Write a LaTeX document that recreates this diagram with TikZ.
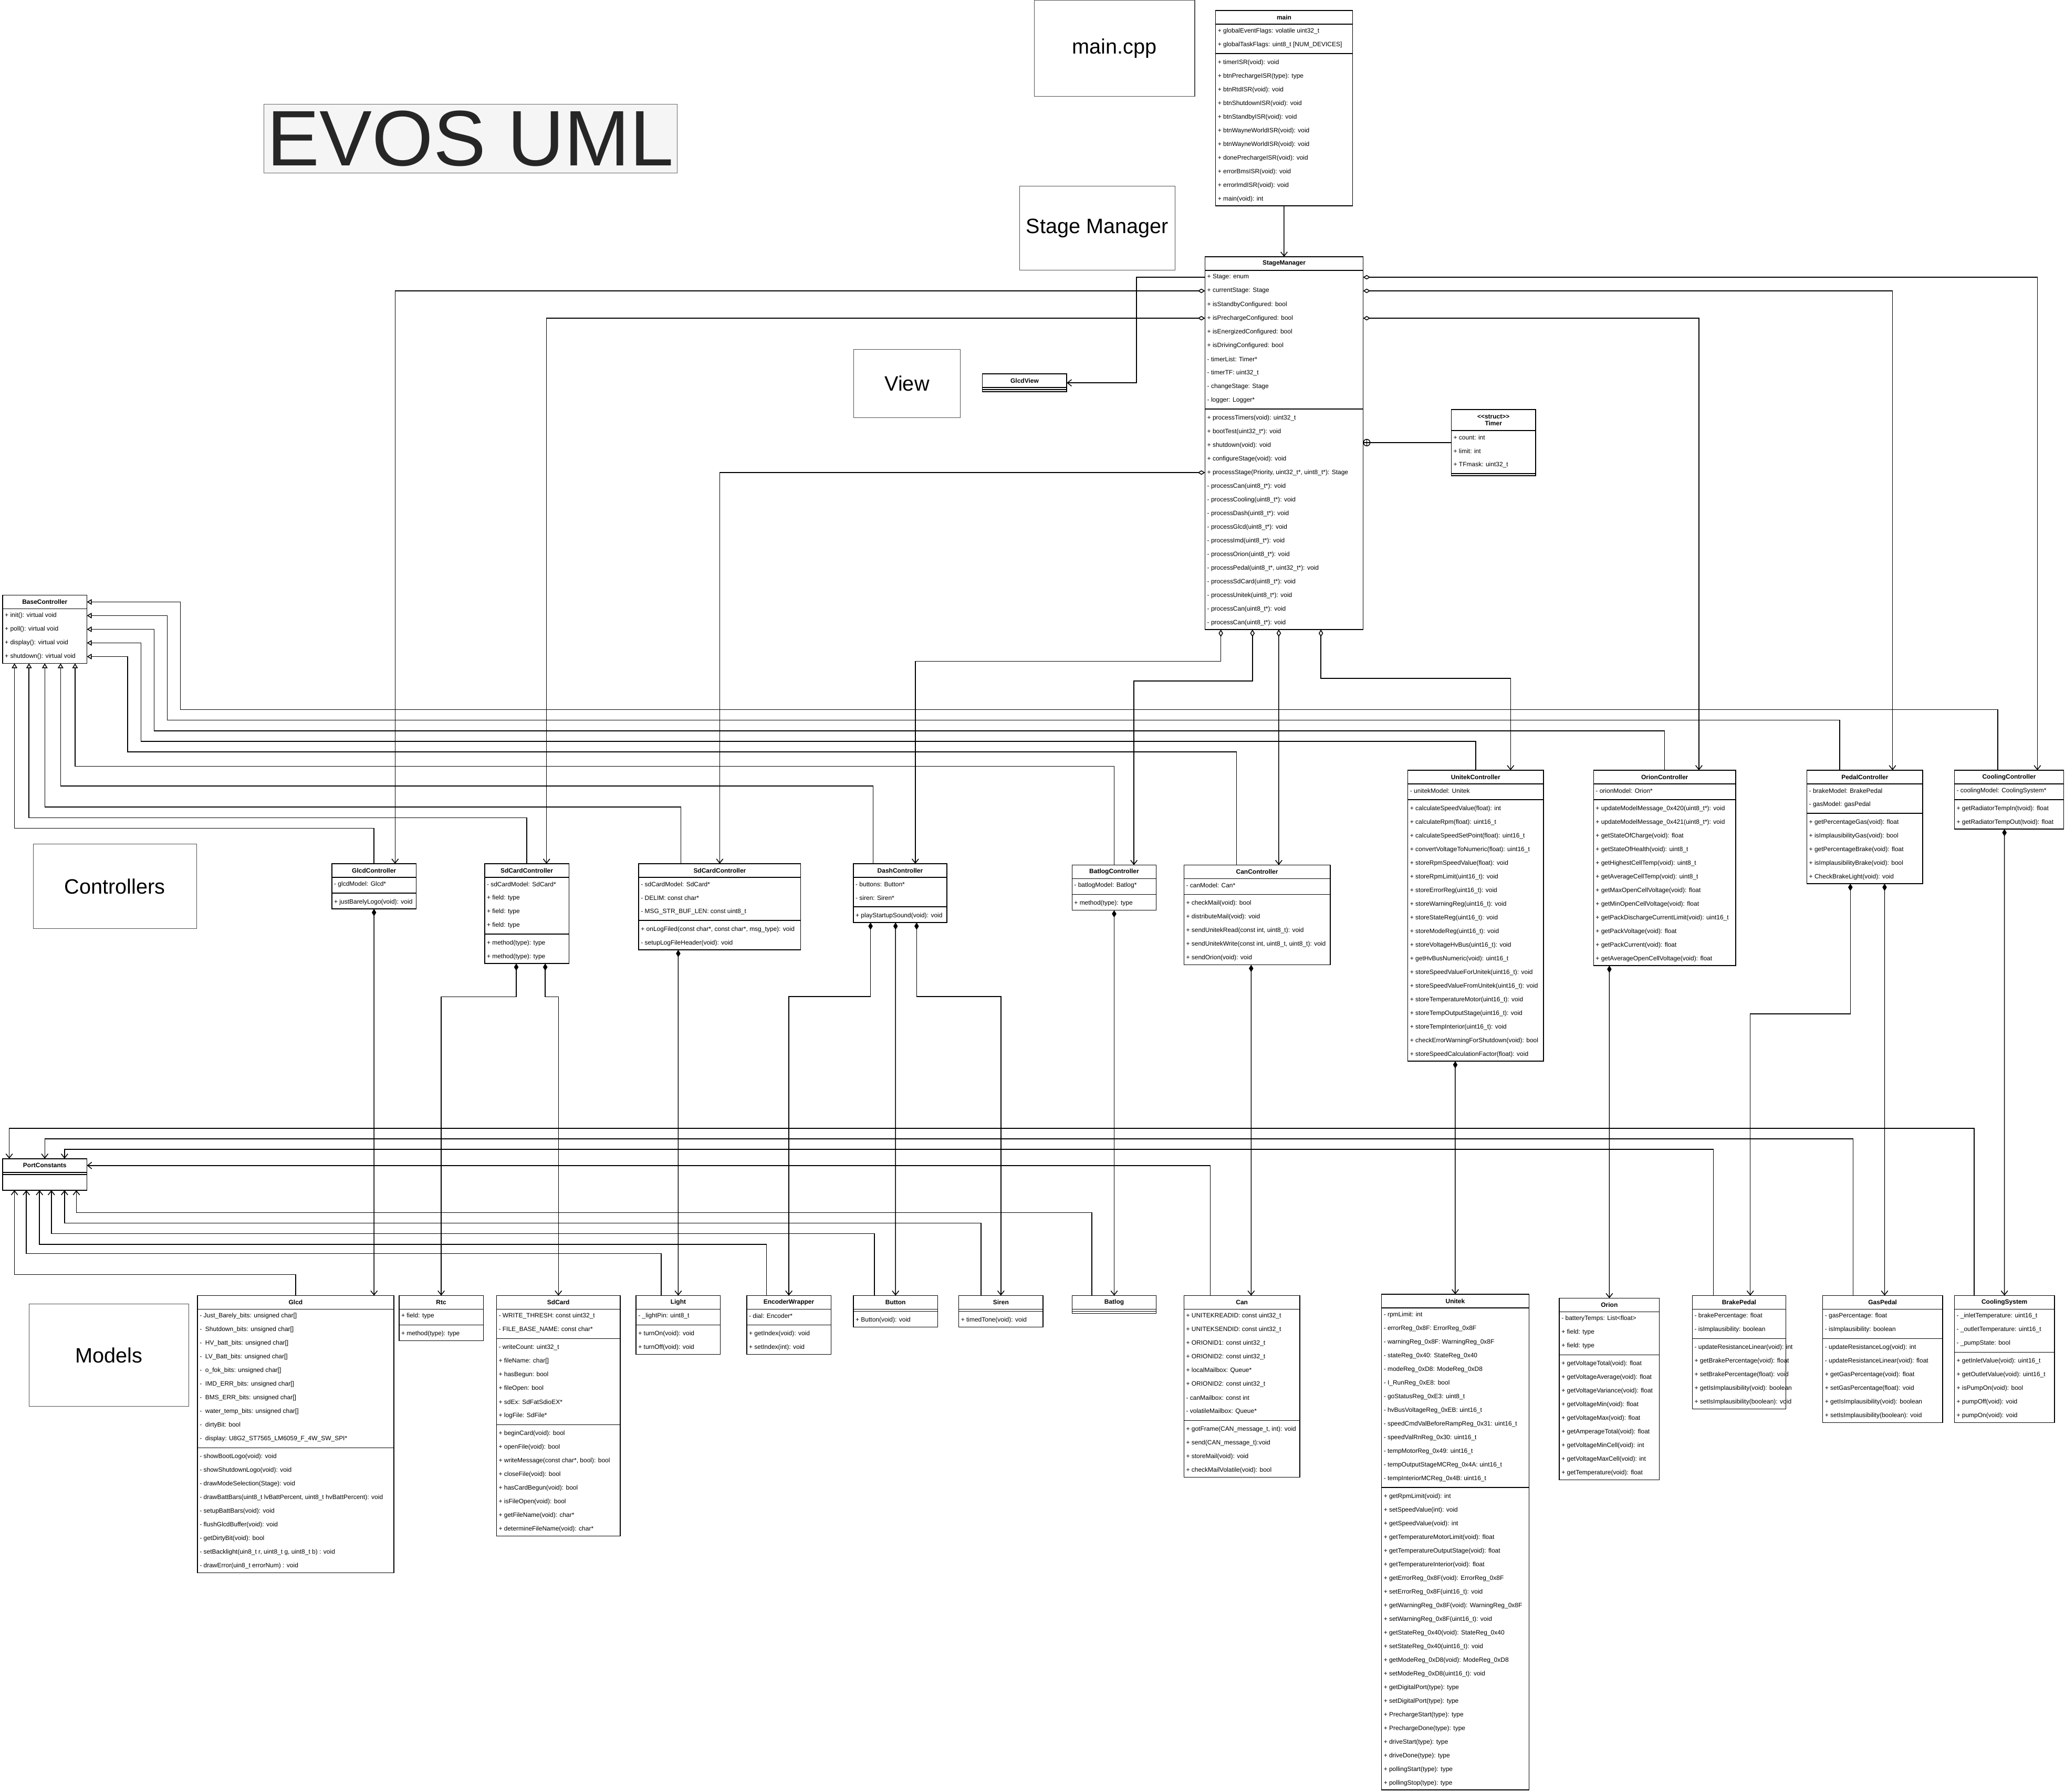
\documentclass[tikz,border=0pt]{standalone}
\usepackage{fontspec}
\setmainfont{Liberation Sans}
\usetikzlibrary{arrows.meta,calc}
\definecolor{evosfill}{HTML}{F5F5F5}
\definecolor{evosline}{HTML}{666666}
\newcommand{\memberfont}{\fontsize{13.6}{16}\selectfont}
\newcommand{\titlefont}{\fontsize{13.6}{15}\selectfont\bfseries}
\newcommand{\labelfont}{\fontsize{45}{50}\selectfont}
\newcommand{\rowh}{10.37}
\newcommand{\divh}{3.19}
\newcounter{rowno}
\edef\divmark{\detokenize{|}}
\tikzset{
  clsBox/.style={draw, line width=1.7pt, inner sep=0pt, outer sep=0pt},
  clsTitle/.style={clsBox, font=\titlefont, align=center},
  memberText/.style={inner sep=0pt, anchor=west, font=\memberfont},
  divLine/.style={line width=1.7pt},
  labelBox/.style={draw=black!70, line width=1.2pt, inner sep=0pt, anchor=north west, font=\labelfont},
  depLine/.style={line width=1.7pt, -{Straight Barb[length=3.2mm,width=5mm]}},
  aggLine/.style={line width=1.7pt, {Diamond[open,length=5.5mm,width=3.4mm]}-{Straight Barb[length=3.2mm,width=5mm]}},
  compLine/.style={line width=1.7pt, {Diamond[length=5.5mm,width=3.4mm]}-{Straight Barb[length=3.2mm,width=5mm]}},
  inhLine/.style={line width=1.7pt, -{Triangle[open,length=3.6mm,width=4.2mm]}},
  plusMark/.style={circle, draw, line width=1.7pt, minimum size=5mm, inner sep=0pt, anchor=west}
}
% class box: [header height]{name}{x}{y}{width}{title}{rows, | = divider}
\newcommand{\umlclass}[7][10.37]{%
  \setcounter{rowno}{0}%
  \node[clsTitle, minimum width=#5 mm, minimum height=#1 mm, anchor=north west] (#2-t) at (#3,#4) {#6};%
  \pgfmathsetmacro\clsy{#4+#1}\xdef\cury{\clsy}%
  \foreach \itm in {#7}{%
    \edef\curitm{\detokenize\expandafter{\itm}}%
    \ifx\curitm\divmark
      \draw[divLine] (#3,\cury+\divh/2) -- ++(#5,0);%
      \pgfmathsetmacro\clsy{\cury+\divh}\xdef\cury{\clsy}%
    \else
      \stepcounter{rowno}\edef\rn{\arabic{rowno}}%
      \node[memberText] (#2-\rn) at (#3+1.6,\cury+\rowh/2) {\itm};%
      \pgfmathsetmacro\clsy{\cury+\rowh}\xdef\cury{\clsy}%
    \fi
  }%
  \pgfmathsetmacro\clsh{\cury-#4}%
  \node[clsBox, minimum width=#5 mm, minimum height=\clsh mm, anchor=north west] (#2) at (#3,#4) {};%
}
\begin{document}
\begin{tikzpicture}[x=1mm, y=-1mm]
  \useasboundingbox (0,0) rectangle (1568,1361);

  % section labels
  \node[labelBox, fill=evosfill, draw=evosline, text=black!85, font=\fontsize{170}{170}\selectfont, minimum width=314mm, minimum height=52mm] (evos) at (200,79) {EVOS UML};
  \node[labelBox, minimum width=122mm, minimum height=73mm] (lblmain) at (785,0) {main.cpp};
  \node[labelBox, minimum width=118mm, minimum height=64mm] (lblstage) at (774,141) {Stage Manager};
  \node[labelBox, minimum width=81mm, minimum height=52mm] (lblview) at (648,265) {View};
  \node[labelBox, minimum width=124mm, minimum height=64mm] (lblctrl) at (25,641) {Controllers};
  \node[labelBox, minimum width=121mm, minimum height=78mm] (lblmodels) at (22,990) {Models};

  % main and stage manager
  \umlclass{main}{923}{8}{104}{main}{+ globalEventFlags: volatile uint32\_t, + globalTaskFlags: uint8\_t [NUM\_DEVICES], |, + timerISR(void): void, + btnPrechargeISR(type): type, + btnRtdISR(void): void, + btnShutdownISR(void): void, + btnStandbyISR(void): void, + btnWayneWorldISR(void): void, + btnWayneWorldISR(void): void, + donePrechargeISR(void): void, + errorBmsISR(void): void, + errorImdISR(void): void, + main(void): int}
  \umlclass{sm}{915}{195}{120}{StageManager}{+ Stage: enum, + currentStage: Stage, + isStandbyConfigured: bool, + isPrechargeConfigured: bool, + isEnergizedConfigured: bool, + isDrivingConfigured: bool, - timerList: Timer*, - timerTF: uint32\_t, - changeStage: Stage, - logger: Logger*, |, + processTimers(void): uint32\_t, + bootTest(uint32\_t*): void, + shutdown(void): void, + configureStage(void): void, {+ processStage(Priority, uint32\_t*, uint8\_t*): Stage}, - processCan(uint8\_t*): void, - processCooling(uint8\_t*): void, - processDash(uint8\_t*): void, - processGlcd(uint8\_t*): void, - processImd(uint8\_t*): void, - processOrion(uint8\_t*): void, {- processPedal(uint8\_t*, uint32\_t*): void}, - processSdCard(uint8\_t*): void, - processUnitek(uint8\_t*): void, - processCan(uint8\_t*): void, - processCan(uint8\_t*): void}
  \umlclass[16]{timer}{1102}{311}{64}{<{}<struct>{}>\\Timer}{+ count: int, + limit: int, + TFmask: uint32\_t, |}
  \umlclass{gview}{746}{284}{64}{GlcdView}{|}

  % controllers
  \umlclass{base}{2}{452}{64}{BaseController}{+ init(): virtual void, + poll(): virtual void, + display(): virtual void, + shutdown(): virtual void}
  \umlclass{glcdc}{252}{656}{64}{GlcdController}{- glcdModel: Glcd*, |, + justBarelyLogo(void): void}
  \umlclass{sdc1}{368}{656}{64}{SdCardController}{- sdCardModel: SdCard*, + field: type, + field: type, + field: type, |, + method(type): type, + method(type): type}
  \umlclass{sdc2}{485}{656}{123}{SdCardController}{- sdCardModel: SdCard*, - DELIM: const char*, - MSG\_STR\_BUF\_LEN: const uint8\_t, |, {+ onLogFiled(const char*, const char*, msg\_type): void}, - setupLogFileHeader(void): void}
  \umlclass{dashc}{648}{656}{71}{DashController}{- buttons: Button*, - siren: Siren*, |, + playStartupSound(void): void}
  \umlclass{batc}{814}{657}{64}{BatlogController}{- batlogModel: Batlog*, |, + method(type): type}
  \umlclass{canc}{899}{657}{111}{CanController}{- canModel: Can*, |, + checkMail(void): bool, + distributeMail(void): void, {+ sendUnitekRead(const int, uint8\_t): void}, {+ sendUnitekWrite(const int, uint8\_t, uint8\_t): void}, + sendOrion(void): void}
  \umlclass{unic}{1069}{585}{103}{UnitekController}{- unitekModel: Unitek, |, + calculateSpeedValue(float): int, + calculateRpm(float): uint16\_t, + calculateSpeedSetPoint(float): uint16\_t, + convertVoltageToNumeric(float): uint16\_t, + storeRpmSpeedValue(float): void, + storeRpmLimit(uint16\_t): void, + storeErrorReg(uint16\_t): void, + storeWarningReg(uint16\_t): void, + storeStateReg(uint16\_t): void, + storeModeReg(uint16\_t): void, + storeVoltageHvBus(uint16\_t): void, + getHvBusNumeric(void): uint16\_t, + storeSpeedValueForUnitek(uint16\_t): void, + storeSpeedValueFromUnitek(uint16\_t): void, + storeTemperatureMotor(uint16\_t): void, + storeTempOutputStage(uint16\_t): void, + storeTempInterior(uint16\_t): void, + checkErrorWarningForShutdown(void): bool, + storeSpeedCalculationFactor(float): void}
  \umlclass{orc}{1210}{585}{108}{OrionController}{- orionModel: Orion*, |, + updateModelMessage\_0x420(uint8\_t*): void, + updateModelMessage\_0x421(uint8\_t*): void, + getStateOfCharge(void): float, + getStateOfHealth(void): uint8\_t, + getHighestCellTemp(void): uint8\_t, + getAverageCellTemp(void): uint8\_t, + getMaxOpenCellVoltage(void): float, + getMinOpenCellVoltage(void): float, + getPackDischargeCurrentLimit(void): uint16\_t, + getPackVoltage(void): float, + getPackCurrent(void): float, + getAverageOpenCellVoltage(void): float}
  \umlclass{pedc}{1372}{585}{88}{PedalController}{- brakeModel: BrakePedal, - gasModel: gasPedal, |, + getPercentageGas(void): float, + isImplausibilityGas(void): bool, + getPercentageBrake(void): float, + isImplausibilityBrake(void): bool, + CheckBrakeLight(void): void}
  \umlclass{coolc}{1484}{585}{83}{CoolingController}{- coolingModel: CoolingSystem*, |, + getRadiatorTempIn(tvoid): float, + getRadiatorTempOut(tvoid): float}

  % models
  \umlclass{pc}{2}{880}{64}{PortConstants}{|, {}}
  \umlclass{glcd}{150}{984}{149}{Glcd}{- Just\_Barely\_bits: unsigned char[], -\ \ Shutdown\_bits: unsigned char[], -\ \ HV\_batt\_bits: unsigned char[], -\ \ LV\_Batt\_bits: unsigned char[], -\ \ o\_fok\_bits: unsigned char[], -\ \ IMD\_ERR\_bits: unsigned char[], -\ \ BMS\_ERR\_bits: unsigned char[], -\ \ water\_temp\_bits: unsigned char[], -\ \ dirtyBit: bool, -\ \ display: U8G2\_ST7565\_LM6059\_F\_4W\_SW\_SPI*, |, - showBootLogo(void): void, - showShutdownLogo(void): void, - drawModeSelection(Stage): void, {- drawBattBars(uint8\_t lvBattPercent, uint8\_t hvBattPercent): void}, - setupBattBars(void): void, - flushGlcdBuffer(void): void, - getDirtyBit(void): bool, {- setBacklight(uin8\_t r, uint8\_t g, uint8\_t b) : void}, - drawError(uin8\_t errorNum) : void}
  \umlclass{rtc}{303}{984}{64}{Rtc}{+ field: type, |, + method(type): type}
  \umlclass{sdcard}{377}{984}{94}{SdCard}{- WRITE\_THRESH: const uint32\_t, - FILE\_BASE\_NAME: const char*, |, - writeCount: uint32\_t, + fileName: char[], + hasBegun: bool, + fileOpen: bool, + sdEx: SdFatSdioEX*, + logFile: SdFile*, |, + beginCard(void): bool, + openFile(void): bool, {+ writeMessage(const char*, bool): bool}, + closeFile(void): bool, + hasCardBegun(void): bool, + isFileOpen(void): bool, + getFileName(void): char*, + determineFileName(void): char*}
  \umlclass{light}{483}{984}{64}{Light}{- \_lightPin: uint8\_t, |, + turnOn(void): void, + turnOff(void): void}
  \umlclass{encw}{567}{984}{64}{EncoderWrapper}{- dial: Encoder*, |, + getIndex(void): void, + setIndex(int): void}
  \umlclass{button}{648}{984}{64}{Button}{|, + Button(void): void}
  \umlclass{siren}{728}{984}{64}{Siren}{|, + timedTone(void): void}
  \umlclass{batlog}{814}{984}{64}{Batlog}{|}
  \umlclass{can}{899}{984}{88}{Can}{+ UNITEKREADID: const uint32\_t, + UNITEKSENDID: const uint32\_t, + ORIONID1: const uint32\_t, + ORIONID2: const uint32\_t, + localMailbox: Queue*, + ORIONID2: const uint32\_t, - canMailbox: const int, - volatileMailbox: Queue*, |, {+ gotFrame(CAN\_message\_t, int): void}, + send(CAN\_message\_t):void, + storeMail(void): void, + checkMailVolatile(void): bool}
  \umlclass{unitek}{1049}{983}{112}{Unitek}{- rpmLimit: int, - errorReg\_0x8F: ErrorReg\_0x8F, - warningReg\_0x8F: WarningReg\_0x8F, - stateReg\_0x40: StateReg\_0x40, - modeReg\_0xD8: ModeReg\_0xD8, - I\_RunReg\_0xE8: bool, - goStatusReg\_0xE3: uint8\_t, - hvBusVoltageReg\_0xEB: uint16\_t, - speedCmdValBeforeRampReg\_0x31: uint16\_t, - speedValRnReg\_0x30: uint16\_t, - tempMotorReg\_0x49: uint16\_t, - tempOutputStageMCReg\_0x4A: uint16\_t, - tempInteriorMCReg\_0x4B: uint16\_t, |, + getRpmLimit(void): int, + setSpeedValue(int): void, + getSpeedValue(void): int, + getTemperatureMotorLimit(void): float, + getTemperatureOutputStage(void): float, + getTemperatureInterior(void): float, + getErrorReg\_0x8F(void): ErrorReg\_0x8F, + setErrorReg\_0x8F(uint16\_t): void, + getWarningReg\_0x8F(void): WarningReg\_0x8F, + setWarningReg\_0x8F(uint16\_t): void, + getStateReg\_0x40(void): StateReg\_0x40, + setStateReg\_0x40(uint16\_t): void, + getModeReg\_0xD8(void): ModeReg\_0xD8, + setModeReg\_0xD8(uint16\_t): void, + getDigitalPort(type): type, + setDigitalPort(type): type, + PrechargeStart(type): type, + PrechargeDone(type): type, + driveStart(type): type, + driveDone(type): type, + pollingStart(type): type, + pollingStop(type): type}
  \umlclass{orion}{1184}{986}{76}{Orion}{- batteryTemps: List<float>, + field: type, + field: type, |, + getVoltageTotal(void): float, + getVoltageAverage(void): float, + getVoltageVariance(void): float, + getVoltageMin(void): float, + getVoltageMax(void): float, + getAmperageTotal(void): float, + getVoltageMinCell(void): int, + getVoltageMaxCell(void): int, + getTemperature(void): float}
  \umlclass{brake}{1285}{984}{71}{BrakePedal}{- brakePercentage: float, - isImplausibility: boolean, |, - updateResistanceLinear(void): int, + getBrakePercentage(void): float, + setBrakePercentage(float): void, + getIsImplausibility(void): boolean, + setIsImplausibility(boolean): void}
  \umlclass{gas}{1384}{984}{91}{GasPedal}{- gasPercentage: float, - isImplausibility: boolean, |, - updateResistanceLog(void): int, - updateResistanceLinear(void): float, + getGasPercentage(void): float, + setGasPercentage(float): void, + getIsImplausibility(void): boolean, + setIsImplausibility(boolean): void}
  \umlclass{cools}{1484}{984}{76}{CoolingSystem}{- \_inletTemperature: uint16\_t, - \_outletTemperature: uint16\_t, - \_pumpState: bool, |, + getInletValue(void): uint16\_t, + getOutletValue(void): uint16\_t, + isPumpOn(void): bool, + pumpOff(void): void, + pumpOn(void): void}

  % stage manager links
  \draw[depLine] (main.south) -- (sm.north);
  \draw[depLine] (sm-1 -| sm.west) -- ++(-52,0) |- (gview.east);
  \node[plusMark] (smplus) at (sm.east |- timer.west) {};
  \draw[line width=1.7pt] (smplus.north) -- (smplus.south) (smplus.west) -- (smplus.east);
  \draw[line width=1.7pt] (smplus) -- (timer.west);
  \draw[aggLine] (sm-2 -| sm.west) -| ([xshift=16mm]glcdc.north);
  \draw[aggLine] (sm-4 -| sm.west) -| ([xshift=15mm]sdc1.north);
  \draw[aggLine] (sm-15 -| sm.west) -| (sdc2.north);
  \draw[aggLine] ([xshift=-48mm]sm.south) -- ++(0,24) -| ([xshift=11.5mm]dashc.north);
  \draw[aggLine] ([xshift=-24mm]sm.south) -- ++(0,39) -| ([xshift=15mm]batc.north);
  \draw[aggLine] ([xshift=-4mm]sm.south) -- ([xshift=16.5mm]canc.north);
  \draw[aggLine] ([xshift=28mm]sm.south) -- ++(0,37) -| ([xshift=26.5mm]unic.north);
  \draw[aggLine] (sm-1 -| sm.east) -| ([xshift=21.5mm]coolc.north);
  \draw[aggLine] (sm-2 -| sm.east) -| ([xshift=21mm]pedc.north);
  \draw[aggLine] (sm-4 -| sm.east) -| ([xshift=26mm]orc.north);

  % generalisation to BaseController
  \draw[inhLine] (glcdc.north) -- ++(0,-27) -| ([xshift=-23mm]base.south);
  \draw[inhLine] (sdc1.north) -- ++(0,-35) -| ([xshift=-12mm]base.south);
  \draw[inhLine] ([xshift=-29.5mm]sdc2.north) -- ++(0,-43) -| (base.south);
  \draw[inhLine] ([xshift=-20.5mm]dashc.north) -- ++(0,-59) -| ([xshift=12mm]base.south);
  \draw[inhLine] (batc.north) -- ++(0,-75) -| ([xshift=23mm]base.south);
  \draw[inhLine] ([xshift=-15.5mm]canc.north) -- ++(0,-86) -| ($(base-4 -| base.east)+(31,0)$) -- (base-4 -| base.east);
  \draw[inhLine] (unic.north) -- ++(0,-22) -| ($(base-3 -| base.east)+(41,0)$) -- (base-3 -| base.east);
  \draw[inhLine] (orc.north) -- ++(0,-30) -| ($(base-2 -| base.east)+(51,0)$) -- (base-2 -| base.east);
  \draw[inhLine] ([xshift=-19mm]pedc.north) -- ++(0,-38) -| ($(base-1 -| base.east)+(61,0)$) -- (base-1 -| base.east);
  \draw[inhLine] ([xshift=-8.5mm]coolc.north) -- ++(0,-46) -| ($(base-t -| base.east)+(71,0)$) -- (base-t -| base.east);

  % controllers own models
  \draw[compLine] (glcdc.south) -- ([xshift=59.5mm]glcd.north);
  \draw[compLine] ([xshift=-8mm]sdc1.south) -- ++(0,25.2) -| (rtc.north);
  \draw[compLine] ([xshift=14mm]sdc1.south) -- ++(0,25.2) -| (sdcard.north);
  \draw[compLine] ([xshift=-31.5mm]sdc2.south) -- (light.north);
  \draw[compLine] ([xshift=-22.5mm]dashc.south) -- ++(0,56.3) -| (encw.north);
  \draw[compLine] ([xshift=-3.5mm]dashc.south) -- (button.north);
  \draw[compLine] ([xshift=12.5mm]dashc.south) -- ++(0,56.3) -| (siren.north);
  \draw[compLine] (batc.south) -- (batlog.north);
  \draw[compLine] ([xshift=-4.5mm]canc.south) -- ([xshift=7mm]can.north);
  \draw[compLine] ([xshift=-15.5mm]unic.south) -- (unitek.north);
  \draw[compLine] ([xshift=-42mm]orc.south) -- (orion.north);
  \draw[compLine] ([xshift=-11mm]pedc.south) -- ++(0,98.8) -| ([xshift=8.5mm]brake.north);
  \draw[compLine] ([xshift=15mm]pedc.south) -- ([xshift=1.5mm]gas.north);
  \draw[compLine] ([xshift=-3.5mm]coolc.south) -- (cools.north);

  % models use PortConstants
  \draw[depLine] (glcd.north) -- ++(0,-16) -| ([xshift=-23mm]pc.south);
  \draw[depLine] ([xshift=-13mm]light.north) -- ++(0,-32) -| ([xshift=-14mm]pc.south);
  \draw[depLine] ([xshift=-17mm]encw.north) -- ++(0,-39) -| ([xshift=-4mm]pc.south);
  \draw[depLine] ([xshift=-16mm]button.north) -- ++(0,-47) -| ([xshift=5mm]pc.south);
  \draw[depLine] ([xshift=-15mm]siren.north) -- ++(0,-55) -| ([xshift=15mm]pc.south);
  \draw[depLine] ([xshift=-17mm]batlog.north) -- ++(0,-63) -| ([xshift=24mm]pc.south);
  \draw[depLine] ([xshift=-24mm]can.north) |- (pc-t.east);
  \draw[depLine] ([xshift=-19.5mm]brake.north) -- ++(0,-111) -| ([xshift=15mm]pc.north);
  \draw[depLine] ([xshift=-22.5mm]gas.north) -- ++(0,-119) -| (pc.north);
  \draw[depLine] ([xshift=-23mm]cools.north) -- ++(0,-127) -| ([xshift=-27mm]pc.north);
\end{tikzpicture}
\end{document}
